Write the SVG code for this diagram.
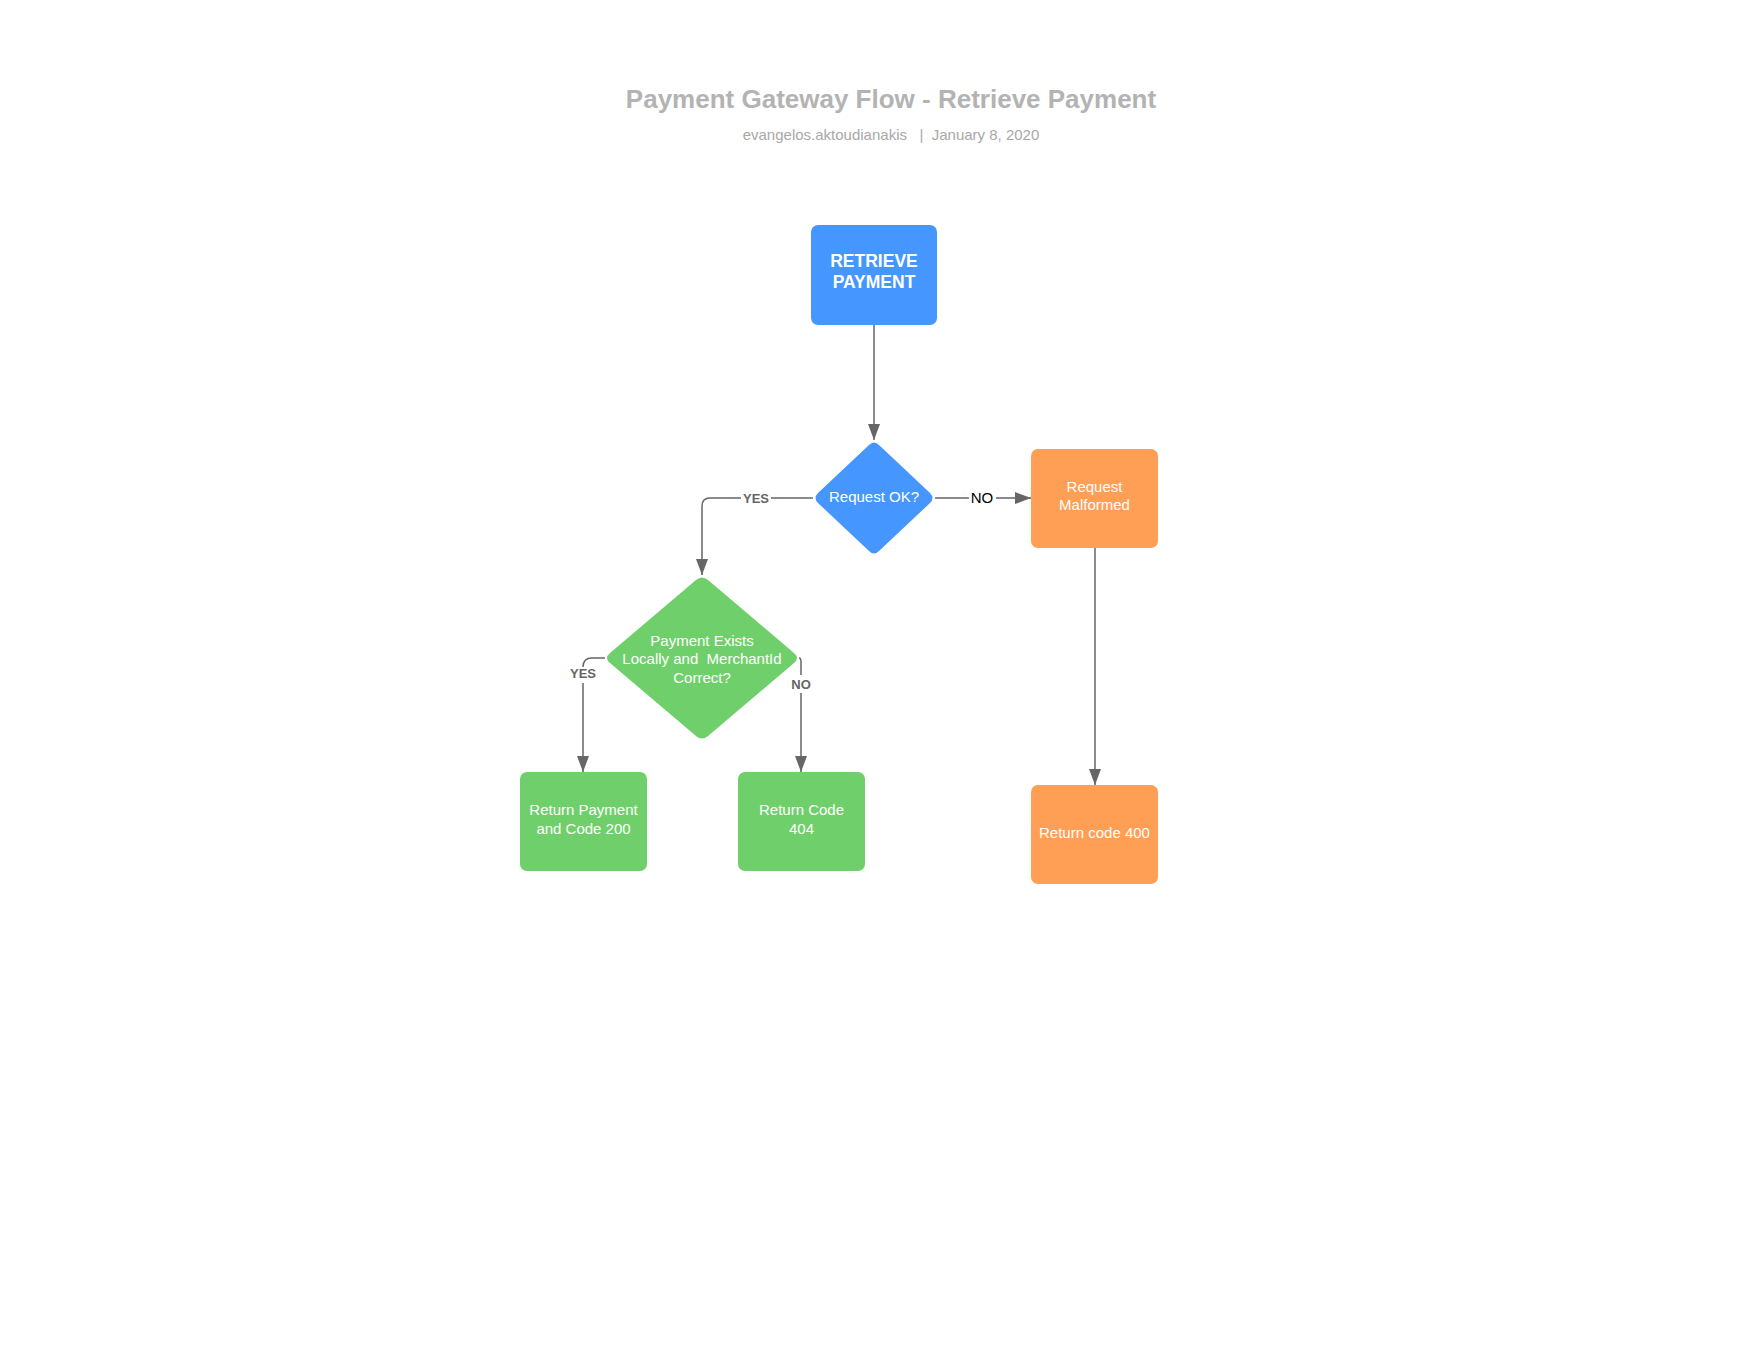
<svg xmlns="http://www.w3.org/2000/svg" width="1760" height="1360" viewBox="0 0 1760 1360">
  <style>
    .title { font-family: "Liberation Sans", Arial, sans-serif; font-size: 26px; font-weight: bold; fill: #b3b3b3; }
    .sub { font-family: "Liberation Sans", Arial, sans-serif; font-size: 15px; fill: #a8a8a8; }
    .blue { fill: #4596fe; }
    .green { fill: #6fcf6b; }
    .orange { fill: #ff9e55; }
    .txt { font-family: "Liberation Sans", Arial, sans-serif; font-size: 15px; fill: #ffffff; text-anchor: middle; }
    .head { font-family: "Liberation Sans", Arial, sans-serif; font-size: 17.5px; font-weight: bold; fill: #ffffff; text-anchor: middle; }
    .edge { fill: none; stroke: #666666; stroke-width: 1.5; }
    .lbl { font-family: "Liberation Sans", Arial, sans-serif; font-size: 13px; font-weight: bold; fill: #666666; text-anchor: middle; }
    .lblk { font-family: "Liberation Sans", Arial, sans-serif; font-size: 15px; fill: #000000; text-anchor: middle; }
  </style>
  <defs>
    <marker id="arrow" viewBox="0 0 16 12" refX="16" refY="6" markerWidth="16" markerHeight="12" markerUnits="userSpaceOnUse" orient="auto">
      <path d="M0,0 L16,6 L0,12 Z" fill="#666666"/>
    </marker>
  </defs>

  <rect width="1760" height="1360" fill="#ffffff"/>

  <!-- header -->
  <text class="title" x="891" y="108" text-anchor="middle">Payment Gateway Flow - Retrieve Payment</text>
  <text class="sub" x="891" y="140" text-anchor="middle" xml:space="preserve">evangelos.aktoudianakis   |  January 8, 2020</text>

  <!-- connectors -->
  <g id="connectors">
    <path class="edge" d="M874,325 L874,440" marker-end="url(#arrow)"/>
    <!-- Request OK? -> YES -->
    <path class="edge" d="M813,498 L771,498 M741,498 L710,498 Q702,498 702,506 L702,575" marker-end="url(#arrow)"/>
    <text class="lbl" x="756" y="503">YES</text>
    <!-- Request OK? -> NO -->
    <path class="edge" d="M935,498 L969,498 M996,498 L1031,498" marker-end="url(#arrow)"/>
    <text class="lblk" x="982" y="503">NO</text>
    <!-- Payment exists -> YES -->
    <path class="edge" d="M605,658 L592,658 Q583,658 583,667 M583,683 L583,772" marker-end="url(#arrow)"/>
    <text class="lbl" x="583" y="678">YES</text>
    <!-- Payment exists -> NO -->
    <path class="edge" d="M799,658 Q801,658 801,662 L801,675 M801,693 L801,772" marker-end="url(#arrow)"/>
    <text class="lbl" x="801" y="689">NO</text>
    <!-- Request Malformed -> Return code 400 -->
    <path class="edge" d="M1095,548 L1095,785" marker-end="url(#arrow)"/>
  </g>

  <!-- nodes -->
  <g id="retrieve-payment">
    <rect class="blue" x="811" y="225" width="126" height="100" rx="7"/>
    <text class="head" x="874" y="267">RETRIEVE</text>
    <text class="head" x="874" y="288">PAYMENT</text>
  </g>

  <g id="request-ok">
    <path class="blue" d="M869,445 Q874,440 879,445 L930,493 Q935,498 930,503 L879,551 Q874,556 869,551 L818,503 Q813,498 818,493 Z"/>
    <text class="txt" x="874" y="502">Request OK?</text>
  </g>

  <g id="request-malformed">
    <rect class="orange" x="1031" y="449" width="127" height="99" rx="7"/>
    <text class="txt" x="1094.5" y="492">Request</text>
    <text class="txt" x="1094.5" y="510">Malformed</text>
  </g>

  <g id="payment-exists">
    <path class="green" d="M696,580 Q702,575 708,580 L794,653 Q800,658 794,663 L708,736 Q702,741 696,736 L610,663 Q604,658 610,653 Z"/>
    <text class="txt" x="702" y="646">Payment Exists</text>
    <text class="txt" x="702" y="664" xml:space="preserve">Locally and  MerchantId</text>
    <text class="txt" x="702" y="683">Correct?</text>
  </g>

  <g id="return-200">
    <rect class="green" x="520" y="772" width="127" height="99" rx="7"/>
    <text class="txt" x="583.5" y="815">Return Payment</text>
    <text class="txt" x="583.5" y="834">and Code 200</text>
  </g>

  <g id="return-404">
    <rect class="green" x="738" y="772" width="127" height="99" rx="7"/>
    <text class="txt" x="801.5" y="815">Return Code</text>
    <text class="txt" x="801.5" y="834">404</text>
  </g>

  <g id="return-400">
    <rect class="orange" x="1031" y="785" width="127" height="99" rx="7"/>
    <text class="txt" x="1094.5" y="838">Return code 400</text>
  </g>
</svg>
